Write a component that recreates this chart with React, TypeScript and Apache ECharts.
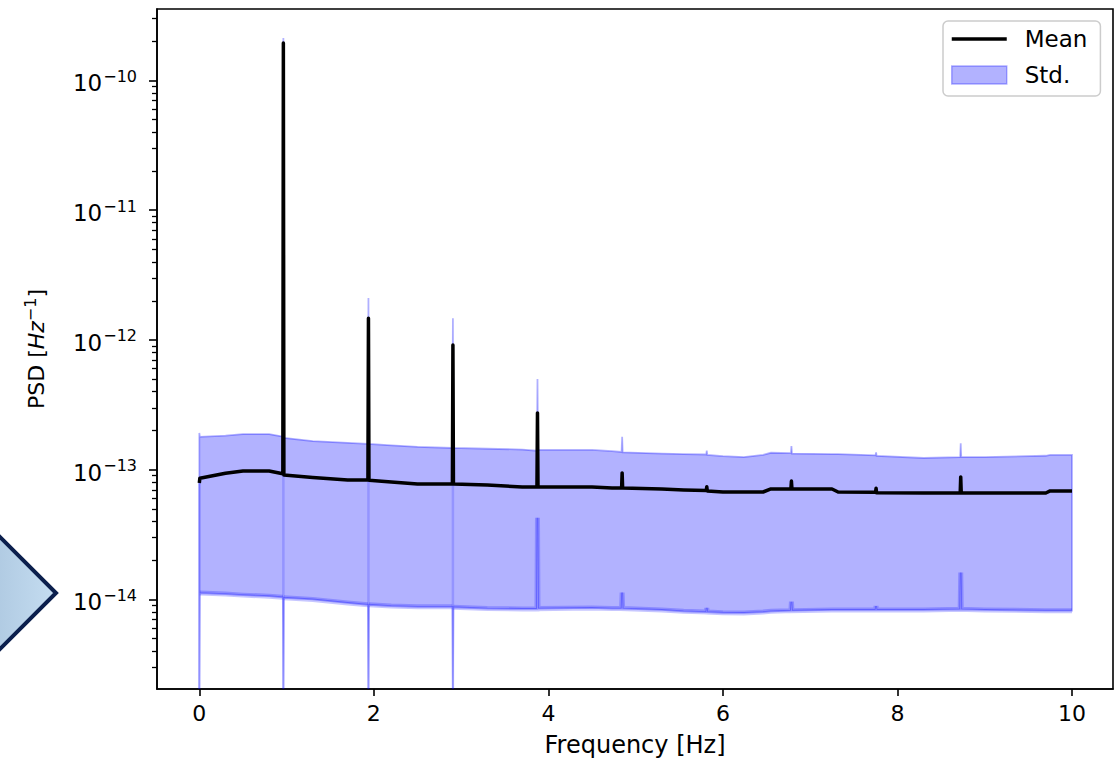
import React, { useEffect, useRef } from "react";
import * as echarts from "echarts";

// ---- data ----
const freqHz = [0, 0.006, 0.3, 0.5, 0.8, 0.957, 0.963, 0.969, 1.3, 1.7, 1.932, 1.938, 1.944, 2.2, 2.5, 2.9, 2.906, 2.912, 3.3, 3.7, 3.869, 3.875, 3.881, 4.5, 4.73, 4.839, 4.845, 4.851, 5.3, 5.55, 5.809, 5.815, 5.821, 6.0, 6.24, 6.46, 6.55, 6.779, 6.785, 6.791, 7.25, 7.32, 7.749, 7.755, 7.761, 8.3, 8.719, 8.725, 8.731, 9.0, 9.7, 9.75, 10];

const meanPSD = [7.9e-14, 8.6e-14, 9.4e-14, 9.77e-14, 9.77e-14, 9.3e-14, 1.94e-10, 9.1e-14, 8.7e-14, 8.33e-14, 8.33e-14, 1.47e-12, 8.3e-14, 8.04e-14, 7.76e-14, 7.76e-14, 9.14e-13, 7.76e-14, 7.62e-14, 7.35e-14, 7.35e-14, 2.74e-13, 7.35e-14, 7.35e-14, 7.23e-14, 7.23e-14, 9.44e-14, 7.23e-14, 7.1e-14, 6.98e-14, 6.9e-14, 7.4e-14, 6.86e-14, 6.73e-14, 6.73e-14, 6.73e-14, 7.1e-14, 7.1e-14, 8.18e-14, 7.1e-14, 7.1e-14, 6.73e-14, 6.7e-14, 7.2e-14, 6.65e-14, 6.61e-14, 6.61e-14, 8.8e-14, 6.61e-14, 6.61e-14, 6.61e-14, 6.86e-14, 6.86e-14];

const stdUpper = [1.92e-13, 1.79e-13, 1.83e-13, 1.88e-13, 1.88e-13, 1.8e-13, 2.12e-10, 1.76e-13, 1.66e-13, 1.61e-13, 1.58e-13, 2.1e-12, 1.58e-13, 1.54e-13, 1.5e-13, 1.47e-13, 1.47e-12, 1.47e-13, 1.45e-13, 1.43e-13, 1.4e-13, 5.0e-13, 1.42e-13, 1.42e-13, 1.39e-13, 1.37e-13, 1.79e-13, 1.36e-13, 1.33e-13, 1.32e-13, 1.31e-13, 1.4e-13, 1.3e-13, 1.27e-13, 1.25e-13, 1.3e-13, 1.35e-13, 1.34e-13, 1.52e-13, 1.33e-13, 1.32e-13, 1.32e-13, 1.29e-13, 1.36e-13, 1.28e-13, 1.23e-13, 1.25e-13, 1.6e-13, 1.25e-13, 1.25e-13, 1.28e-13, 1.3e-13, 1.3e-13];

const stdLower = [0, 1.12e-14, 1.1e-14, 1.08e-14, 1.06e-14, 1.04e-14, 0, 1.03e-14, 1.0e-14, 9.4e-15, 9.1e-15, 0, 9.1e-15, 8.9e-15, 8.77e-15, 8.77e-15, 0, 8.7e-15, 8.5e-15, 8.46e-15, 8.46e-15, 4.26e-14, 8.5e-15, 8.6e-15, 8.5e-15, 8.5e-15, 1.13e-14, 8.5e-15, 8.3e-15, 8.1e-15, 8.0e-15, 8.6e-15, 8.0e-15, 7.9e-15, 7.88e-15, 8.0e-15, 8.1e-15, 8.2e-15, 9.6e-15, 8.2e-15, 8.3e-15, 8.3e-15, 8.3e-15, 8.9e-15, 8.3e-15, 8.3e-15, 8.4e-15, 1.61e-14, 8.4e-15, 8.3e-15, 8.2e-15, 8.2e-15, 8.2e-15];

const xTicks = [0, 2, 4, 6, 8, 10];
const yMajorExponents = [-14, -13, -12, -11, -10];
const yMinorMultipliers = [2, 3, 4, 5, 6, 7, 8, 9];

const X_MIN = -0.485;
const X_MAX = 10.47;
const Y_MIN_LOG = -14.69;
const Y_MAX_LOG = -9.45;

const FONT = "DejaVu Sans";

function toLog(v: number): number {
  if (!(v > 0)) return Y_MIN_LOG;
  return Math.max(Math.log10(v), Y_MIN_LOG);
}

export default function App() {
  const ref = useRef<HTMLDivElement>(null);

  useEffect(() => {
    if (!ref.current) return;
    const chart = echarts.init(ref.current, null, { renderer: "svg" });

    const minorValues: number[] = [];
    for (let e = -15; e <= -10; e++) {
      yMinorMultipliers.forEach((m) => {
        const lv = Math.log10(m) + e;
        if (lv > Y_MIN_LOG && lv < Y_MAX_LOG) minorValues.push(lv);
      });
    }

    const meanData = freqHz.map((f, i) => [f, Math.log10(meanPSD[i])]);

    const option: any = {
      animation: false,
      backgroundColor: "#ffffff",
      textStyle: { fontFamily: FONT },
      grid: {
        left: 157,
        top: 9,
        right: 6,
        bottom: 71,
        show: true,
        borderColor: "#000000",
        borderWidth: 1.6,
        backgroundColor: "transparent",
        containLabel: false,
        outerBoundsMode: "none",
      },
      legend: {
        orient: "vertical",
        left: 943,
        top: 21,
        padding: [5, 13, 8, 7],
        itemWidth: 55,
        itemHeight: 18,
        itemGap: 10,
        borderColor: "#cccccc",
        borderWidth: 1.5,
        borderRadius: 5,
        backgroundColor: "rgba(255,255,255,0.8)",
        textStyle: {
          fontFamily: FONT,
          fontSize: 23,
          color: "#000000",
          lineHeight: 26,
          padding: [0, 0, 0, 13],
        },
        data: [
          {
            name: "Mean",
            itemStyle: { color: "rgba(0,0,0,0)", borderWidth: 0, opacity: 0 },
            lineStyle: { color: "#000000", width: 3.5 },
          },
          {
            name: "Std.",
            icon: "rect",
            itemStyle: {
              color: "rgba(0,0,255,0.3)",
              borderColor: "rgba(0,0,255,0.3)",
              borderWidth: 1.5,
            },
          },
        ],
      },
      xAxis: {
        type: "value",
        min: X_MIN,
        max: X_MAX,
        name: "Frequency [Hz]",
        nameLocation: "middle",
        nameGap: 44,
        nameTextStyle: { fontFamily: FONT, fontSize: 24, color: "#000" },
        splitLine: { show: false },
        axisLine: { show: true, onZero: false, lineStyle: { color: "#000", width: 1.6 } },
        axisTick: {
          show: true,
          length: 7,
          inside: false,
          customValues: xTicks,
          lineStyle: { color: "#000", width: 1.6 },
        },
        axisLabel: {
          show: true,
          customValues: xTicks,
          margin: 13,
          fontFamily: FONT,
          fontSize: 22,
          color: "#000",
          formatter: (v: number) => String(v),
        },
      },
      yAxis: [
        {
          type: "value",
          min: Y_MIN_LOG,
          max: Y_MAX_LOG,
          name: "{n|PSD [}{i|Hz}{s|−1}{n|]}",
          nameLocation: "middle",
          nameRotate: 90,
          nameGap: 112,
          nameTextStyle: {
            fontFamily: FONT,
            color: "#000",
            rich: {
              n: { fontFamily: FONT, fontSize: 22, lineHeight: 22, padding: [5, 0, 0, 0], color: "#000" },
              i: { fontFamily: FONT, fontSize: 22, lineHeight: 22, fontStyle: "italic", padding: [5, 0, 0, 0], color: "#000" },
              s: { fontFamily: FONT, fontSize: 16, lineHeight: 16, padding: [0, 0, 8, 0], color: "#000" },
            },
          },
          splitLine: { show: false },
          axisLine: { show: true, onZero: false, lineStyle: { color: "#000", width: 1.6 } },
          axisTick: {
            show: true,
            length: 8,
            customValues: yMajorExponents,
            lineStyle: { color: "#000", width: 1.6 },
          },
          axisLabel: {
            show: true,
            customValues: yMajorExponents,
            margin: 20,
            formatter: (v: number) => "{b|10}{s|−" + Math.round(-v) + "}",
            rich: {
              b: { fontFamily: FONT, fontSize: 23, lineHeight: 23, padding: [6, 0, 0, 0], color: "#000" },
              s: { fontFamily: FONT, fontSize: 16, lineHeight: 16, padding: [0, 0, 8, 1], color: "#000" },
            },
          },
        },
        {
          type: "value",
          min: Y_MIN_LOG,
          max: Y_MAX_LOG,
          position: "left",
          offset: 0,
          splitLine: { show: false },
          axisLine: { show: false, onZero: false },
          axisLabel: { show: false },
          axisTick: {
            show: true,
            length: 5,
            customValues: minorValues,
            lineStyle: { color: "#000", width: 1.3 },
          },
        },
      ],
      series: [
        {
          name: "Std.",
          type: "custom",
          xAxisIndex: 0,
          yAxisIndex: 0,
          z: 1,
          clip: true,
          itemStyle: { color: "rgba(0,0,255,0.3)" },
          data: [[5, -13]],
          renderItem: (params: any, api: any) => {
            const upper: number[][] = [];
            const lower: number[][] = [];
            const segments: number[][][] = [];
            const dropLines: any[] = [];
            let seg: number[][] = [];
            for (let i = 0; i < freqHz.length; i++) {
              upper.push(api.coord([freqHz[i], toLog(stdUpper[i])]));
              const lp = api.coord([freqHz[i], toLog(stdLower[i])]);
              lower.push(lp);
              if (stdLower[i] > 0) {
                seg.push(lp);
              } else {
                if (seg.length > 1) segments.push(seg);
                seg = [];
                // lower bound not positive: the band drops to the bottom of the log axis
                const j = i > 0 ? i - 1 : i + 1;
                const top = api.coord([freqHz[i], toLog(meanPSD[j])]);
                dropLines.push({
                  type: "line",
                  shape: { x1: top[0], y1: top[1], x2: lp[0], y2: lp[1] },
                  style: { stroke: "rgba(0,0,255,0.17)", lineWidth: 2.5 },
                });
              }
            }
            if (seg.length > 1) segments.push(seg);
            const poly = upper.concat(lower.slice().reverse());
            const children: any[] = [
              {
                type: "polygon",
                shape: { points: poly },
                style: {
                  fill: "rgba(0,0,255,0.3)",
                  stroke: "rgba(0,0,255,0.3)",
                  lineWidth: 1.8,
                },
              },
            ];
            segments.forEach((s) => {
              children.push({
                type: "polyline",
                shape: { points: s },
                style: {
                  fill: null,
                  stroke: "rgba(0,0,255,0.22)",
                  lineWidth: 5,
                },
              });
            });
            dropLines.forEach((d) => children.push(d));
            return { type: "group", children };
          },
        },
        {
          name: "Mean",
          type: "line",
          xAxisIndex: 0,
          yAxisIndex: 0,
          z: 3,
          data: meanData,
          showSymbol: false,
          symbol: "none",
          clip: true,
          itemStyle: { color: "#000000" },
          lineStyle: { color: "#000000", width: 3.5, join: "round" },
        },
      ],
      graphic: [
        {
          type: "polygon",
          z: 10,
          shape: { points: [[-40, 497], [56, 593], [-40, 689]] },
          style: {
            fill: new echarts.graphic.LinearGradient(0, 0, 1, 0, [
              { offset: 0, color: "#a3bfd9" },
              { offset: 1, color: "#c5ddf1" },
            ]),
            stroke: "#0b1f4d",
            lineWidth: 4,
            lineJoin: "miter",
          },
        },
      ],
    };

    chart.setOption(option);
    return () => chart.dispose();
  }, []);

  return (
    <div
      ref={ref}
      style={{ position: "absolute", left: 0, top: 0, width: 1119, height: 760 }}
    />
  );
}
